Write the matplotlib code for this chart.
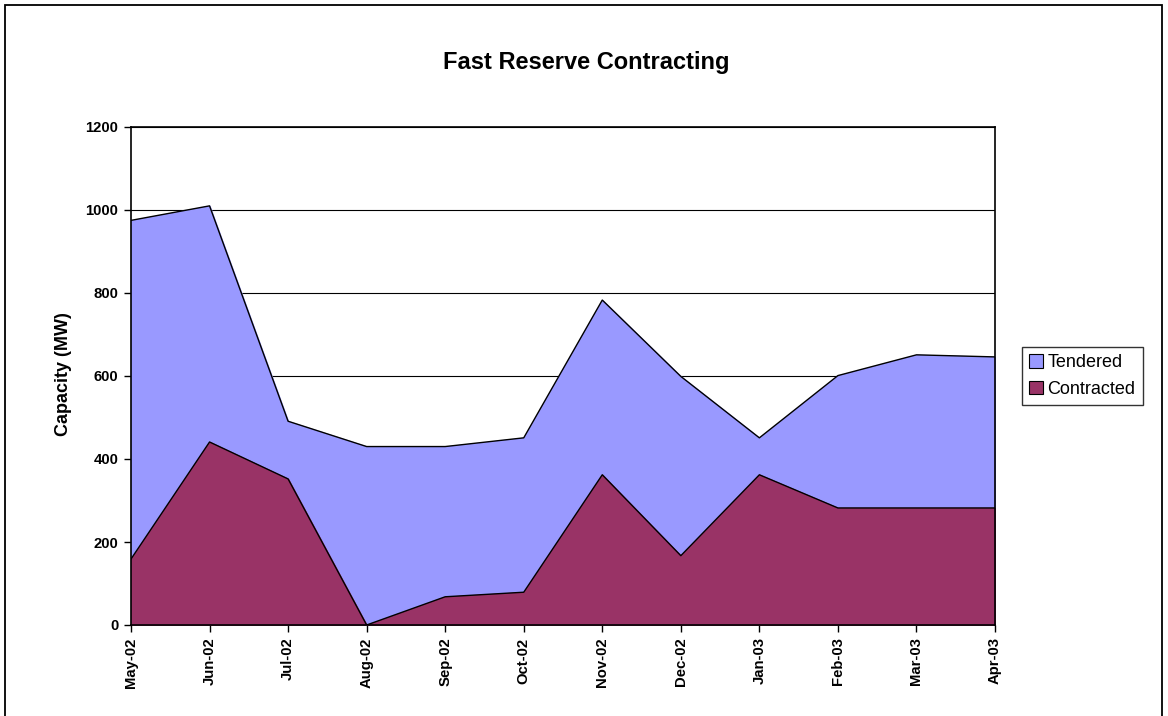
import matplotlib
matplotlib.use("Agg")
import matplotlib.pyplot as plt
from matplotlib.patches import Rectangle

months = ["May-02", "Jun-02", "Jul-02", "Aug-02", "Sep-02", "Oct-02",
          "Nov-02", "Dec-02", "Jan-03", "Feb-03", "Mar-03", "Apr-03"]
tendered = [975, 1010, 491, 430, 430, 451, 783, 599, 451, 601, 651, 646]
contracted = [159, 441, 352, 0, 68, 79, 362, 167, 362, 282, 282, 282]
yticks = [0, 200, 400, 600, 800, 1000, 1200]

plt.rcParams['font.family'] = ['Liberation Sans', 'DejaVu Sans']

fig = plt.figure(figsize=(11.68, 7.16), dpi=100)
fig.patches.append(Rectangle((5/1168, -0.05), 1157/1168, 1.05 - 5/716,
                             transform=fig.transFigure, fill=False,
                             edgecolor='black', linewidth=1.3))

ax = fig.add_axes([131/1168, 1 - 625/716, 864/1168, 498/716])
x = list(range(len(months)))

ax.fill_between(x, 0, tendered, color='#9999FF', zorder=2, label='Tendered')
ax.plot(x, tendered, color='black', lw=1, zorder=3)
ax.fill_between(x, 0, contracted, color='#993366', zorder=4, label='Contracted')
ax.plot(x, contracted, color='black', lw=1, zorder=5)

ax.set_xlim(0, len(months) - 1)
ax.set_ylim(0, 1200)
ax.set_yticks(yticks)
ax.set_yticklabels([str(v) for v in yticks], fontsize=10.7, fontweight='bold')
ax.set_xticks(x)
ax.set_xticklabels(months, rotation=90, fontsize=10.7, fontweight='bold')
ax.tick_params(direction='out', length=5, width=1, color='black', pad=4)
ax.yaxis.grid(True, color='black', lw=0.8, zorder=1)
ax.set_axisbelow(True)
for s in ax.spines.values():
    s.set_linewidth(1.2)
    s.set_zorder(6)

fig.text(63/1168, 1 - 374/716, 'Capacity (MW)', rotation=90,
         ha='center', va='center', fontsize=13, fontweight='bold')
fig.text(586/1168, 1 - 62/716, 'Fast Reserve Contracting',
         ha='center', va='center', fontsize=17, fontweight='bold')

leg = ax.legend(loc='upper left', bbox_to_anchor=(1022/1168, 1 - 347/716),
                bbox_transform=fig.transFigure, fontsize=13, frameon=True,
                fancybox=False, edgecolor='black', handlelength=0.75,
                handleheight=0.75, handletextpad=0.25, borderpad=0.4,
                labelspacing=0.55, borderaxespad=0)
leg.get_frame().set_linewidth(1)
for h in leg.legend_handles:
    h.set_edgecolor('black')
    h.set_linewidth(0.8)

fig.savefig('out.png', dpi=100)
